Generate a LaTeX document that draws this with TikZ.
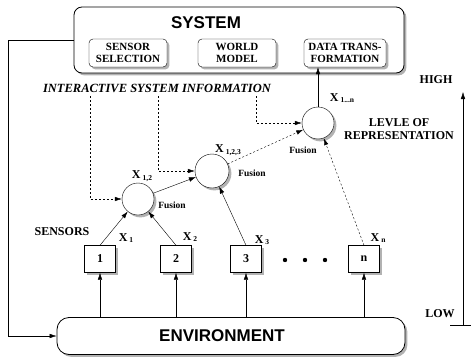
\documentclass[tikz,border=0pt]{standalone}
\usepackage{fontspec}
\setmainfont{Liberation Serif}
\newfontfamily\arialf{Liberation Sans}
\usetikzlibrary{shadows,arrows.meta}

\newcommand{\xsub}[1]{X\,\raisebox{-0.3ex}{\fontsize{7.5}{8}\selectfont #1}}

\begin{document}
\begin{tikzpicture}[x=1pt, y=-1pt,
    font=\bfseries\fontsize{12}{13}\selectfont,
    shade/.style={drop shadow={shadow xshift=2.4pt, shadow yshift=-2.4pt, fill=gray!60, opacity=1}},
    bigbox/.style={draw, thick, rounded corners=8pt, fill=white, shade},
    subbox/.style={draw, rounded corners=4pt, fill=white, shade, align=center, inner sep=1pt,
                   minimum height=28pt, font=\bfseries\fontsize{11}{12}\selectfont},
    sensor/.style={draw, fill=white, shade, minimum width=31pt, minimum height=27pt},
    fusion/.style={draw, circle, fill=white, shade, minimum size=32pt, inner sep=0pt},
    flow/.style={-{Latex[length=7pt, width=4.5pt]}},
    info/.style={flow, dash pattern=on 2pt off 2pt},
    lbl/.style={inner sep=0pt}]
    \useasboundingbox (0,0) rectangle (471,361);

    % system and environment
    \node [bigbox, minimum width=330pt, minimum height=66pt] (sys) at (239,40) {};
    \node [lbl, font=\arialf\bfseries\fontsize{17}{18}\selectfont] (systxt) at (206,23) {SYSTEM};
    \node [subbox, minimum width=78pt] (sel) at (128,53) {SENSOR\\SELECTION};
    \node [subbox, minimum width=78pt] (wm) at (237,53) {WORLD\\MODEL};
    \node [subbox, minimum width=82pt] (dt) at (345,53) {DATA TRANS-\\FORMATION};

    \node [bigbox, rounded corners=12pt, minimum width=348pt, minimum height=37pt] (env) at (231,336) {};
    \node [lbl, font=\arialf\bfseries\fontsize{17}{18}\selectfont] (envtxt) at (222,336) {ENVIRONMENT};

    % sensors
    \node [sensor] (s1) at (100,259) {1};
    \node [sensor] (s2) at (176,259) {2};
    \node [sensor] (s3) at (246,259) {3};
    \node [sensor] (sn) at (364,259) {n};
    \foreach \i/\x in {1/285, 2/305, 3/325}
        \fill (\x,260) circle (2.2pt) coordinate (dot\i);

    % fusion nodes
    \node [fusion] (f1) at (138,199) {};
    \node [fusion, minimum size=34pt] (f2) at (212,171) {};
    \node [fusion] (f3) at (318,123) {};

    \draw [flow] (s1 |- env.north) -- (s1);
    \draw [flow] (s2 |- env.north) -- (s2);
    \draw [flow] (s3 |- env.north) -- (s3);
    \draw [flow] (sn |- env.north) -- (sn);

    \draw [flow] (s1.north) -- (f1);
    \draw [flow] (s2.north) -- (f1);
    \draw [flow] (f1) -- (f2);
    \draw [flow] (s3.north) -- (f2);
    \draw [info] (f2) -- (f3);
    \draw [info] (sn.north) -- (f3);
    \draw [flow] (f3) -- (f3 |- dt.south);

    % interactive information
    \node [lbl, font=\bfseries\itshape\fontsize{12.5}{13}\selectfont] (info) at (157,88) {INTERACTIVE SYSTEM INFORMATION};
    \coordinate (i1) at (90,96);
    \coordinate (i2) at (158,96);
    \coordinate (i3) at (256,96);
    \draw [info] (i1) |- (f1.west);
    \draw [info] (i2) |- (f2.west);
    \draw [info] (i3) |- (f3.west);

    % feedback
    \draw [flow] (sys.west) -- (8,40) |- (env.west);

    % labels
    \node [lbl] (lsens) at (62,232) {SENSORS};
    \node [lbl] (lx1) at (126,238) {\xsub{1}};
    \node [lbl] (lx2) at (190,237) {\xsub{2}};
    \node [lbl] (lx3) at (262,240) {\xsub{3}};
    \node [lbl] (lxn) at (378,238) {\xsub{n}};
    \node [lbl] (lx12) at (142,176) {\xsub{1,2}};
    \node [lbl] (lx123) at (228,150) {\xsub{1,2,3}};
    \node [lbl] (lx1n) at (342,98) {\xsub{1...n}};
    \node [lbl, font=\bfseries\fontsize{9.5}{10}\selectfont] (fu1) at (172,205) {Fusion};
    \node [lbl, font=\bfseries\fontsize{9.5}{10}\selectfont] (fu2) at (252,173) {Fusion};
    \node [lbl, font=\bfseries\fontsize{9.5}{10}\selectfont] (fu3) at (303,150) {Fusion};
    \node [lbl, align=center] (lrep) at (399,129) {LEVLE OF\\REPRESENTATION};

    % level scale
    \coordinate (low) at (463,325);
    \coordinate (high) at (463,92);
    \draw [flow] (low) -- (high);
    \draw (450,325) -- (471,325);
    \node [lbl] (lhigh) at (436,80) {HIGH};
    \node [lbl] (llow) at (440,314) {LOW};
\end{tikzpicture}
\end{document}
